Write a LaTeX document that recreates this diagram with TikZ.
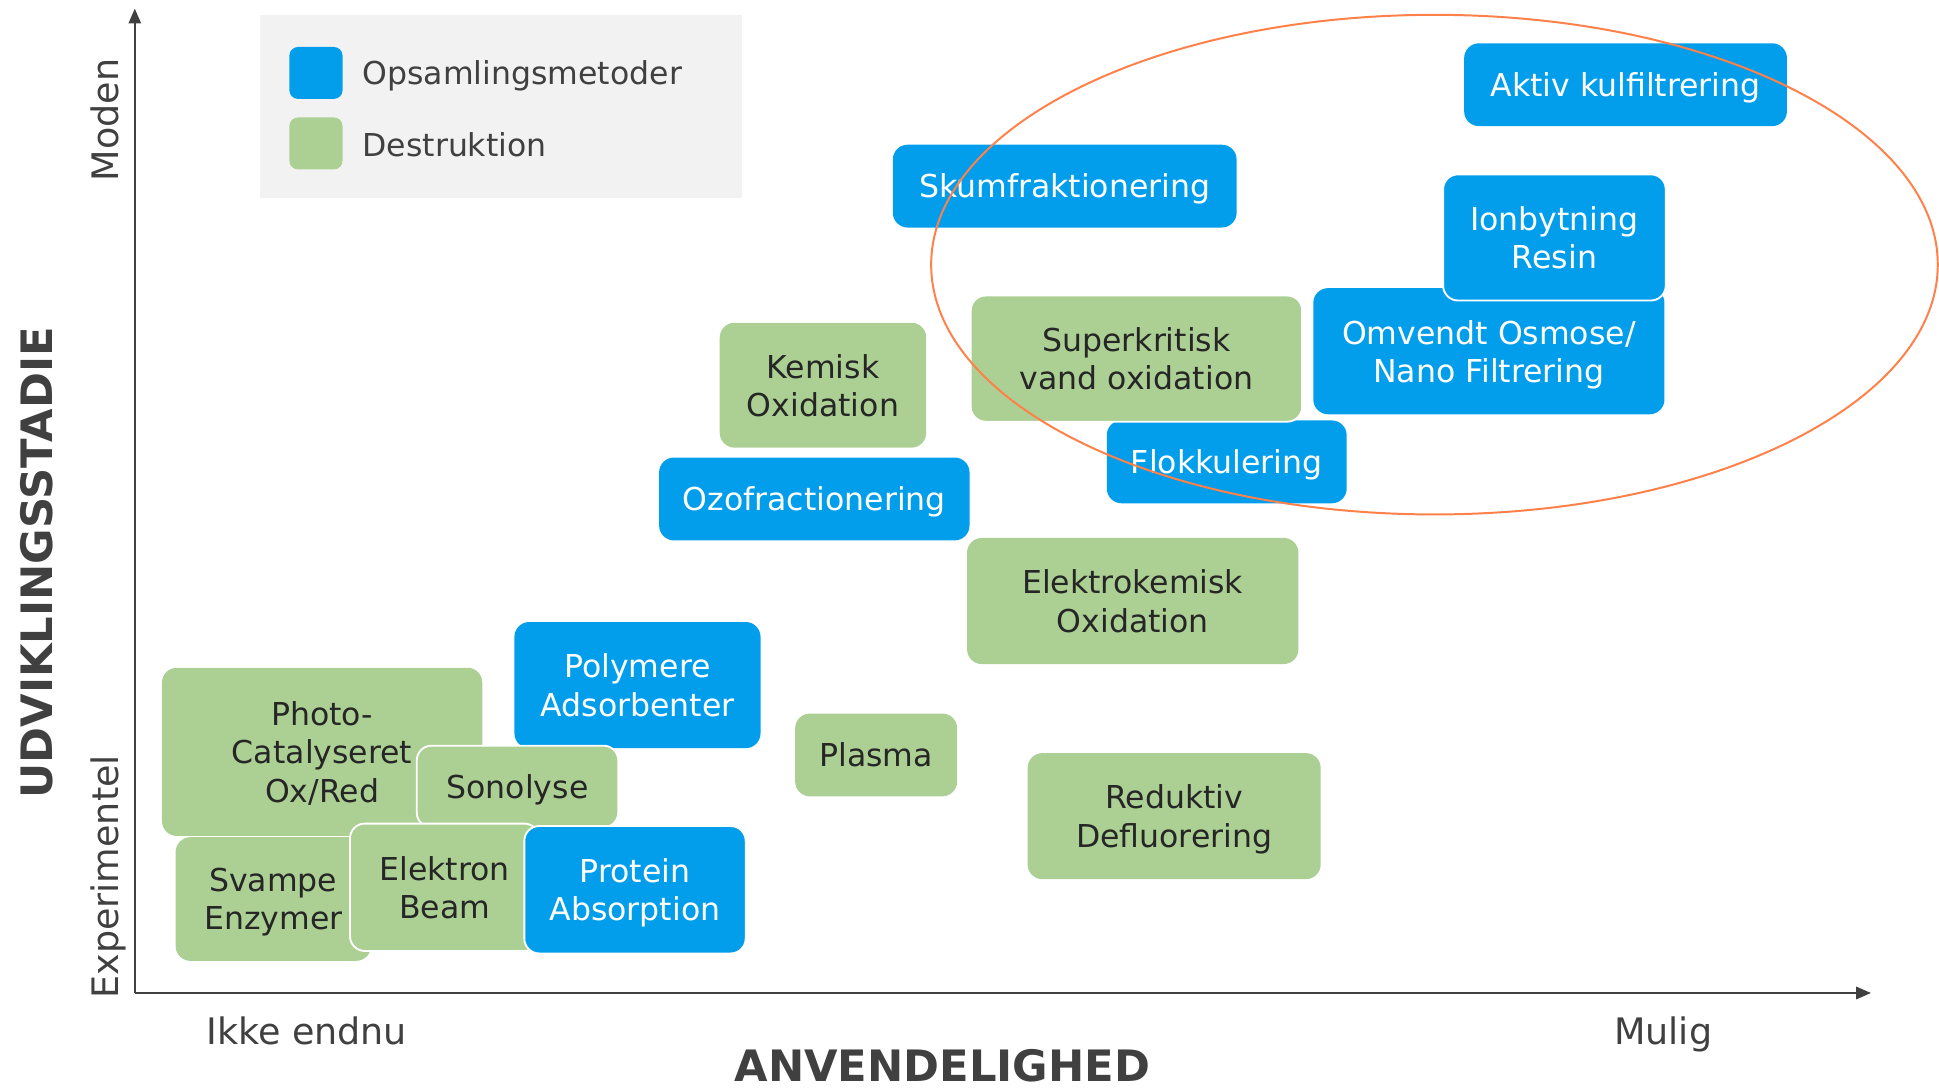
\documentclass[tikz,border=0pt]{standalone}
\usepackage{fontspec}
\setmainfont{DejaVu Sans}
\usetikzlibrary{arrows.meta,shapes.geometric}
\definecolor{opblue}{RGB}{3,158,235}
\definecolor{degreen}{RGB}{172,208,148}
\definecolor{dtext}{RGB}{38,38,38}
\definecolor{axisgray}{RGB}{64,64,64}
\definecolor{leggray}{RGB}{242,242,242}
\definecolor{ringorange}{RGB}{255,128,72}
\begin{document}
\begin{tikzpicture}[x=1pt,y=-1pt,
  tbox/.style={rounded corners=12pt, inner sep=0pt, align=center, text depth=0pt, font=\fontsize{25.5}{31}\selectfont},
  bluebox/.style={tbox, fill=opblue, text=white},
  greenbox/.style={tbox, fill=degreen, text=dtext},
  oneline/.style={text height=19pt, text depth=0pt},
  edged/.style={draw=white, line width=1.5pt},
  axisline/.style={draw=axisgray, line width=1.6pt, -{Triangle[length=12pt,width=10pt]}},
  endlabel/.style={text=axisgray, font=\fontsize{29.5}{34}\selectfont, inner sep=0pt, text height=22pt, text depth=0pt},
  axistitle/.style={text=axisgray, font=\fontsize{35}{40}\selectfont\bfseries, inner sep=0pt},
  legtext/.style={text=axisgray, font=\fontsize{25.5}{31}\selectfont, inner sep=0pt, anchor=west, text height=19pt, text depth=0pt},
  swatch/.style={rounded corners=7pt, minimum width=43pt, minimum height=42pt, inner sep=0pt}
]
\useasboundingbox (0,0) rectangle (1568,882);

% legend
\node[fill=leggray, minimum width=390pt, minimum height=148pt, inner sep=0pt] (legend) at (405,86) {};
\node[swatch, fill=opblue] (swblue) at (255.5,59) {};
\node[swatch, fill=degreen] (swgreen) at (255.5,116) {};
\node[legtext] (legblue) at (293,59) {Opsamlingsmetoder};
\node[legtext] (leggreen) at (293,117) {Destruktion};

% axes
\coordinate (origin) at (109,803);
\coordinate (ytop) at (109,7);
\coordinate (xend) at (1513,803);
\draw[axisline] (origin) -- (ytop);
\draw[axisline] (origin) -- (xend);

\node[endlabel, rotate=90] (moden) at (85,97) {Moden};
\node[endlabel, rotate=90] (exper) at (85,709) {Experimentel};
\node[axistitle, rotate=90] (udv) at (30,455) {UDVIKLINGSSTADIE};
\node[endlabel] (ikke) at (248,834) {Ikke endnu};
\node[endlabel] (mulig) at (1345,834) {Mulig};
\node[axistitle] (anv) at (762,862) {ANVENDELIGHED};

% boxes
\node[bluebox, oneline, minimum width=261pt, minimum height=67pt] (akt) at (1314.5,68.5) {Aktiv kulfiltrering};
\node[bluebox, oneline, minimum width=278pt, minimum height=67pt] (skum) at (861,150.5) {Skumfraktionering};
\node[bluebox, minimum width=284pt, minimum height=102pt] (omv) at (1204,284) {Omvendt Osmose/\\Nano Filtrering};
\node[bluebox, edged, minimum width=180pt, minimum height=102pt] (ion) at (1257,192) {Ionbytning\\Resin};
\node[bluebox, oneline, minimum width=194pt, minimum height=67pt] (flok) at (992,373.5) {Flokkulering};
\node[greenbox, edged, minimum width=268pt, minimum height=102pt] (super) at (919,290) {Superkritisk\\vand oxidation};
\node[greenbox, minimum width=167pt, minimum height=101pt] (kem) at (665.5,311.5) {Kemisk\\Oxidation};
\node[bluebox, oneline, minimum width=251pt, minimum height=67pt] (ozo) at (658.5,403.5) {Ozofractionering};
\node[greenbox, minimum width=268pt, minimum height=102pt] (elk) at (916,486) {Elektrokemisk\\Oxidation};
\node[bluebox, minimum width=199pt, minimum height=102pt] (poly) at (515.5,554) {Polymere\\Adsorbenter};
\node[greenbox, minimum width=259pt, minimum height=136pt] (photo) at (260.5,608) {Photo-\\Catalyseret\\Ox/Red};
\node[greenbox, oneline, edged, minimum width=163pt, minimum height=66pt] (sono) at (418.5,636) {Sonolyse};
\node[greenbox, oneline, minimum width=131pt, minimum height=67pt] (plasma) at (708.5,610.5) {Plasma};
\node[greenbox, minimum width=237pt, minimum height=102pt] (red) at (949.5,660) {Reduktiv\\Defluorering};
\node[greenbox, minimum width=158pt, minimum height=100pt] (svampe) at (221,727) {Svampe\\Enzymer};
\node[greenbox, edged, minimum width=153pt, minimum height=103pt] (elektron) at (359.5,717.5) {Elektron\\Beam};
\node[bluebox, edged, minimum width=179pt, minimum height=103pt] (protein) at (513.5,719.5) {Protein\\Absorption};

% highlight ellipse
\node[ellipse, draw=ringorange, line width=1.6pt, minimum width=814pt, minimum height=404pt, inner sep=0pt] (mature) at (1160,214) {};
\end{tikzpicture}
\end{document}
